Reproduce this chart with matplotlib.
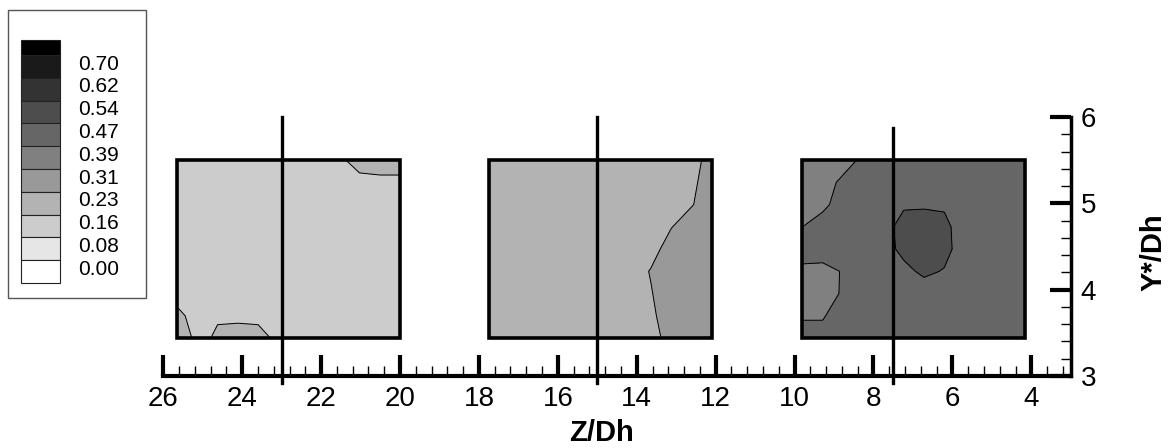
import numpy as np
import matplotlib.pyplot as plt
from matplotlib.patches import Rectangle
from matplotlib.ticker import MultipleLocator

plt.rcParams['font.family'] = ['Liberation Sans', 'DejaVu Sans']

# contour levels and grey shades (legend from bottom to top)
levels = [0.00, 0.08, 0.16, 0.23, 0.31, 0.39, 0.47, 0.54, 0.62, 0.70]
level_labels = ['0.00', '0.08', '0.16', '0.23', '0.31', '0.39', '0.47', '0.54', '0.62', '0.70']
shades = ['#ffffff', '#e6e6e6', '#cccccc', '#b3b3b3', '#999999', '#808080',
          '#666666', '#4d4d4d', '#333333', '#1a1a1a', '#000000']

# three measurement planes (Z from, Z to) and common Y range
panel_z = [(25.65, 20.0), (17.75, 12.1), (9.8, 4.15)]
panel_y = (3.44, 5.5)

# probe lines
probe_z = [23.0, 15.0, 7.5]
probe_top = [6.0, 6.0, 5.87]
probe_bottom = 2.92

# values, rows from bottom (Y=3.44) to top (Y=5.5),
# columns from the left edge of each plane to its right edge
vals_1 = [
    [0.24, 0.13, 0.175, 0.18, 0.175, 0.15, 0.12, 0.12, 0.12, 0.12, 0.12, 0.12],
    [0.18, 0.13, 0.15, 0.15, 0.15, 0.13, 0.13, 0.13, 0.13, 0.13, 0.13, 0.13],
    [0.13, 0.13, 0.13, 0.13, 0.13, 0.13, 0.13, 0.13, 0.13, 0.13, 0.13, 0.13],
    [0.13, 0.13, 0.13, 0.13, 0.13, 0.13, 0.13, 0.13, 0.13, 0.13, 0.13, 0.13],
    [0.13, 0.13, 0.13, 0.13, 0.13, 0.13, 0.13, 0.13, 0.13, 0.13, 0.13, 0.13],
    [0.13, 0.13, 0.13, 0.13, 0.13, 0.13, 0.13, 0.13, 0.13, 0.13, 0.13, 0.13],
    [0.13, 0.13, 0.13, 0.13, 0.13, 0.13, 0.13, 0.13, 0.13, 0.13, 0.13, 0.13],
    [0.13, 0.13, 0.13, 0.13, 0.13, 0.13, 0.13, 0.13, 0.13, 0.145, 0.145, 0.145],
    [0.13, 0.13, 0.13, 0.13, 0.13, 0.13, 0.13, 0.13, 0.15, 0.18, 0.19, 0.19],
]
vals_2 = [
    [0.19, 0.19, 0.19, 0.19, 0.19, 0.19, 0.19, 0.19, 0.20, 0.26, 0.27, 0.27],
    [0.19, 0.19, 0.19, 0.19, 0.19, 0.19, 0.19, 0.19, 0.215, 0.27, 0.28, 0.28],
    [0.19, 0.19, 0.19, 0.19, 0.19, 0.19, 0.19, 0.19, 0.225, 0.28, 0.28, 0.28],
    [0.19, 0.19, 0.19, 0.19, 0.19, 0.19, 0.19, 0.19, 0.235, 0.28, 0.28, 0.28],
    [0.19, 0.19, 0.19, 0.19, 0.19, 0.19, 0.19, 0.19, 0.20, 0.265, 0.28, 0.28],
    [0.19, 0.19, 0.19, 0.19, 0.19, 0.19, 0.19, 0.19, 0.19, 0.227, 0.27, 0.28],
    [0.19, 0.19, 0.19, 0.19, 0.19, 0.19, 0.19, 0.19, 0.19, 0.19, 0.225, 0.27],
    [0.19, 0.19, 0.19, 0.19, 0.19, 0.19, 0.19, 0.19, 0.19, 0.19, 0.21, 0.275],
    [0.19, 0.19, 0.19, 0.19, 0.19, 0.19, 0.19, 0.19, 0.19, 0.19, 0.20, 0.26],
]
vals_3 = [
    [0.41, 0.41, 0.43, 0.43, 0.43, 0.43, 0.43, 0.43, 0.43, 0.43, 0.43, 0.43],
    [0.385, 0.385, 0.42, 0.43, 0.43, 0.43, 0.43, 0.43, 0.43, 0.43, 0.43, 0.43],
    [0.365, 0.37, 0.395, 0.43, 0.43, 0.43, 0.43, 0.43, 0.43, 0.43, 0.43, 0.43],
    [0.37, 0.365, 0.395, 0.43, 0.43, 0.45, 0.485, 0.465, 0.43, 0.43, 0.43, 0.43],
    [0.43, 0.43, 0.43, 0.43, 0.44, 0.49, 0.51, 0.495, 0.43, 0.43, 0.43, 0.43],
    [0.39, 0.41, 0.43, 0.43, 0.44, 0.50, 0.51, 0.49, 0.43, 0.43, 0.43, 0.43],
    [0.37, 0.38, 0.41, 0.43, 0.43, 0.46, 0.46, 0.46, 0.43, 0.43, 0.43, 0.43],
    [0.36, 0.37, 0.40, 0.43, 0.43, 0.43, 0.43, 0.43, 0.43, 0.43, 0.43, 0.43],
    [0.36, 0.36, 0.37, 0.40, 0.43, 0.43, 0.43, 0.43, 0.43, 0.43, 0.43, 0.43],
]
panel_vals = [vals_1, vals_2, vals_3]

fig = plt.figure(figsize=(11.72, 4.48), dpi=100)
ax = fig.add_axes([0.1393, 0.1607, 0.7743, 0.5781])

for (z0, z1), vals in zip(panel_z, panel_vals):
    v = np.array(vals)
    zz = np.linspace(z0, z1, v.shape[1])
    yy = np.linspace(panel_y[0], panel_y[1], v.shape[0])
    ax.contourf(zz, yy, v, levels=levels, colors=shades, extend='both')
    ax.contour(zz, yy, v, levels=levels, colors='k', linewidths=0.7)
    ax.add_patch(Rectangle((z1, panel_y[0]), z0 - z1, panel_y[1] - panel_y[0],
                           fill=False, edgecolor='k', linewidth=2.6, zorder=3))

for z, top in zip(probe_z, probe_top):
    ax.plot([z, z], [probe_bottom, top], color='k', linewidth=2.4,
            clip_on=False, zorder=4)

ax.set_xlim(26, 3)
ax.set_ylim(3, 6)
ax.set_xticks(np.arange(4, 27, 2))
ax.set_yticks([3, 4, 5, 6])
ax.xaxis.set_minor_locator(MultipleLocator(0.4))
ax.yaxis.set_minor_locator(MultipleLocator(0.2))
ax.yaxis.tick_right()
ax.yaxis.set_label_position('right')

for side in ['top', 'left']:
    ax.spines[side].set_visible(False)
ax.spines['bottom'].set_linewidth(3)
ax.spines['right'].set_linewidth(2.5)

ax.tick_params(which='major', direction='in', length=15, width=3, labelsize=20, pad=7)
ax.tick_params(which='minor', direction='in', length=7, width=1)
ax.set_xlabel('Z/Dh', fontsize=21, fontweight='bold')
ax.xaxis.set_label_coords(0.483, -0.165)
ax.set_ylabel('Y*/Dh', fontsize=21, fontweight='bold', rotation=90)
ax.yaxis.set_label_coords(1.076, 0.48)

# legend box, drawn in pixel coordinates
lax = fig.add_axes([0, 0, 1, 1])
lax.set_xlim(0, 1172)
lax.set_ylim(448, 0)
lax.axis('off')
lax.add_patch(Rectangle((8, 10), 138, 288, fill=False, edgecolor='#555555', linewidth=1))
box_h = 22.8
top_h = 15
lax.add_patch(Rectangle((21, 40), 39, top_h, facecolor=shades[-1], edgecolor='#222222', linewidth=0.8))
for i, lab in enumerate(level_labels[::-1]):
    y = 40 + top_h + i * box_h
    lax.add_patch(Rectangle((21, y), 39, box_h, facecolor=shades[-2 - i],
                            edgecolor='#222222', linewidth=0.8))
    lax.text(78, y + 9, lab, fontsize=15, ha='left', va='center')

fig.savefig('out.png', dpi=100)
